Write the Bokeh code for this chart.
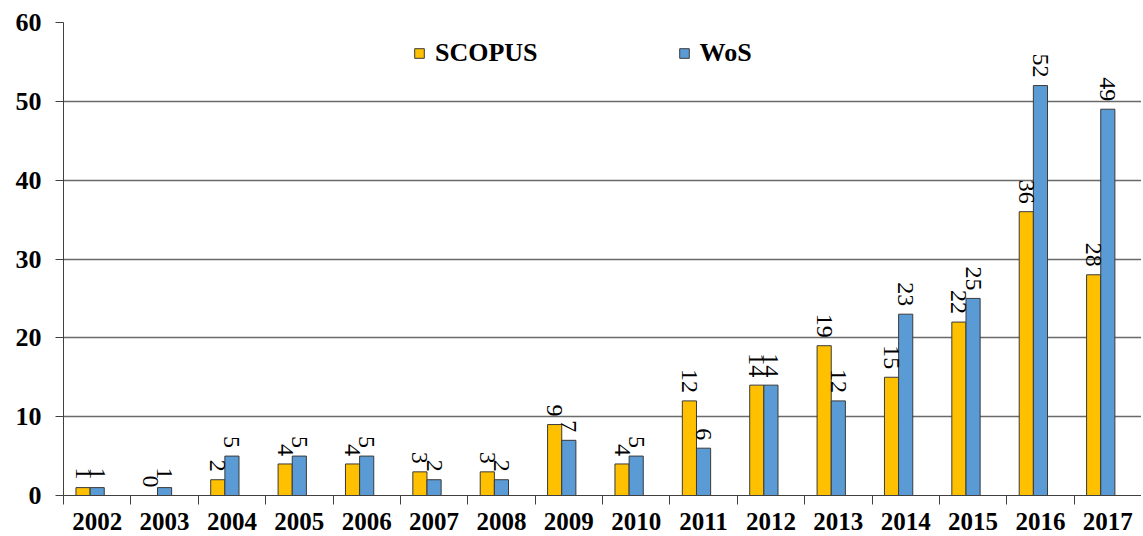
from bokeh.plotting import figure
from bokeh.models import ColumnDataSource, FixedTicker, Legend, LegendItem
from bokeh.transform import dodge
from bokeh.core.properties import value
from bokeh.embed import file_html
from bokeh.resources import INLINE
import math

years = [2002, 2003, 2004, 2005, 2006, 2007, 2008, 2009, 2010, 2011, 2012, 2013, 2014, 2015, 2016, 2017]
scopus = [1, 0, 2, 4, 4, 3, 3, 9, 4, 12, 14, 19, 15, 22, 36, 28]
wos = [1, 1, 5, 5, 5, 2, 2, 7, 5, 6, 14, 12, 23, 25, 52, 49]
y_ticks = [0, 10, 20, 30, 40, 50, 60]

src = ColumnDataSource(dict(
    year=years, scopus=scopus, wos=wos,
    scopus_lbl=[str(v) for v in scopus], wos_lbl=[str(v) for v in wos],
))

FONT = "Liberation Serif"

p = figure(width=1141, height=534, output_backend="svg", toolbar_location=None,
           x_range=(2001.5, 2017.5), y_range=(0, 60),
           min_border_left=63, min_border_right=0, min_border_top=22, min_border_bottom=39)
p.outline_line_color = None
p.background_fill_color = "white"

bar_w = 0.21
r1 = p.vbar(x=dodge("year", -0.21), top="scopus", width=bar_w, source=src,
            fill_color="#FFC000", line_color="#3a3a3a", line_width=1)
r2 = p.vbar(x=dodge("year", 0.0), top="wos", width=bar_w, source=src,
            fill_color="#5B9BD5", line_color="#3a3a3a", line_width=1)

p.text(x=dodge("year", -0.21), y="scopus", text="scopus_lbl", source=src,
       angle=-math.pi / 2, text_align="right", text_baseline="middle",
       y_offset=-8, text_font=value(FONT), text_font_size="24px", text_color="black")
p.text(x=dodge("year", 0.0), y="wos", text="wos_lbl", source=src,
       angle=-math.pi / 2, text_align="right", text_baseline="middle",
       y_offset=-8, text_font=value(FONT), text_font_size="24px", text_color="black")

# axes
p.xaxis.ticker = FixedTicker(ticks=years, minor_ticks=[y + 0.5 for y in [2001] + years])
p.xaxis.major_tick_out = 0
p.xaxis.major_tick_in = 0
p.xaxis.minor_tick_out = 9
p.xaxis.minor_tick_in = 0
p.xaxis.minor_tick_line_color = "#404040"
p.xaxis.axis_line_color = "#404040"
p.xaxis.major_label_standoff = 8
p.xaxis.major_label_text_font = FONT
p.xaxis.major_label_text_font_style = "bold"
p.xaxis.major_label_text_font_size = "25px"
p.xaxis.major_label_text_color = "black"

p.yaxis.ticker = FixedTicker(ticks=y_ticks)
p.yaxis.major_tick_out = 8
p.yaxis.major_tick_in = 0
p.yaxis.minor_tick_line_color = None
p.yaxis.major_tick_line_color = "#404040"
p.yaxis.axis_line_color = "#404040"
p.yaxis.major_label_standoff = 14
p.yaxis.major_label_text_font = FONT
p.yaxis.major_label_text_font_style = "bold"
p.yaxis.major_label_text_font_size = "26px"
p.yaxis.major_label_text_color = "black"

p.xgrid.grid_line_color = None
p.ygrid.ticker = FixedTicker(ticks=y_ticks)
p.ygrid.grid_line_color = "#6a6a6a"
p.ygrid.grid_line_width = 1.3

legend = Legend(items=[LegendItem(label="SCOPUS", renderers=[r1]),
                       LegendItem(label="WoS", renderers=[r2])],
                orientation="horizontal", location=(350, 427),
                spacing=140, padding=0, margin=0, border_line_color=None,
                background_fill_alpha=0, glyph_width=12, glyph_height=12,
                label_standoff=10, label_height=22,
                label_text_font=FONT, label_text_font_style="bold",
                label_text_font_size="26px", label_text_color="black")
p.add_layout(legend)

open("out.html", "w").write(file_html(p, INLINE))
